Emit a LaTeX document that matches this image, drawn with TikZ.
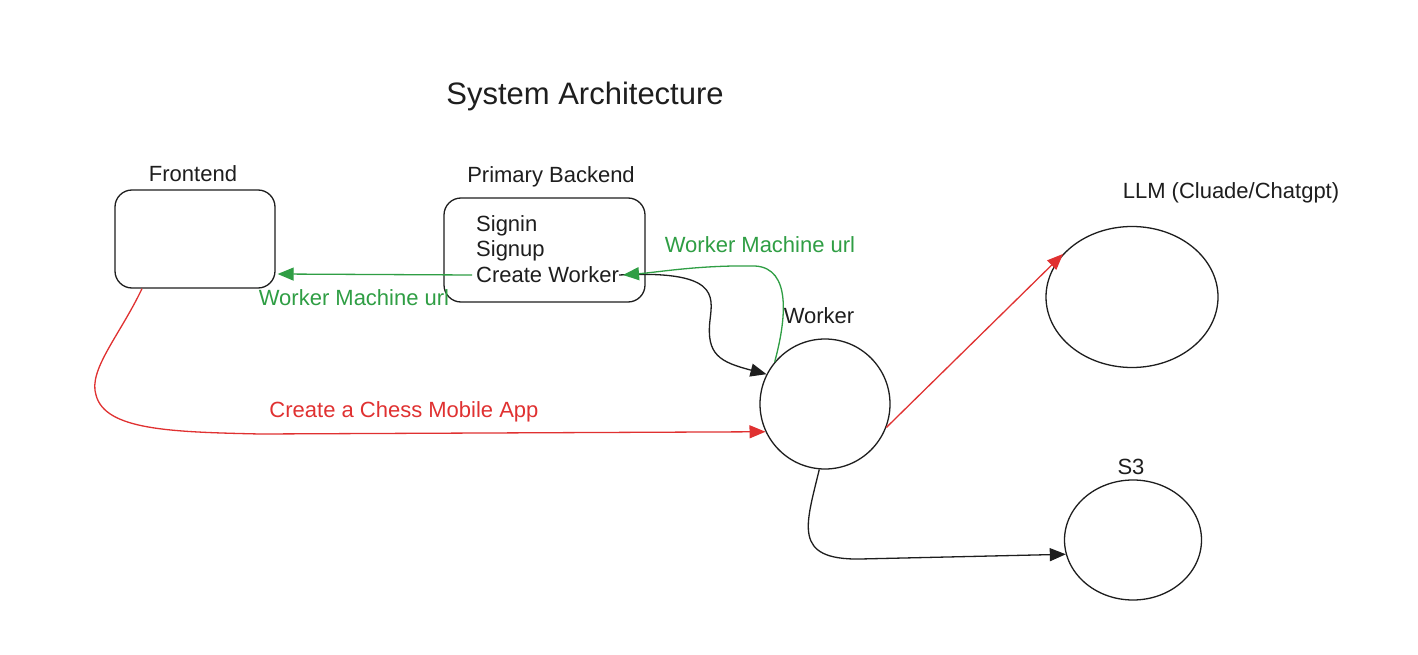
\documentclass[tikz,border=0pt]{standalone}
\usepackage{fontspec}
\setmainfont{Liberation Sans}
\usetikzlibrary{arrows.meta,shapes.geometric}
\definecolor{ink}{RGB}{30,30,30}
\definecolor{exred}{RGB}{224,49,49}
\definecolor{exgreen}{RGB}{47,158,68}
\tikzset{
  lbl/.style={inner sep=0pt, text=ink, font=\fontsize{22}{26}\selectfont},
  shapebox/.style={draw=ink, line width=1.3pt, fill=white},
  conn/.style={line width=1.3pt, -{Triangle[length=16pt,width=13pt]}},
}
\begin{document}
\begin{tikzpicture}[x=1pt,y=-1pt]
\useasboundingbox (0,0) rectangle (1418,655);
\fill[white] (0,0) rectangle (1418,655);

% title
\node[lbl, font=\fontsize{31}{36}\selectfont] (title) at (585,96) {System Architecture};

% frontend
\node[shapebox, rounded corners=17pt, minimum width=160pt, minimum height=98pt] (frontend) at (195,239) {};
\node[lbl] (felabel) at (193,174) {Frontend};

% primary backend
\node[shapebox, rounded corners=17pt, minimum width=201pt, minimum height=104pt] (backend) at (544.5,250) {};
\node[lbl] (belabel) at (551,177) {Primary Backend};
\node[lbl, anchor=west] (signin) at (476,226) {Signin};
\node[lbl, anchor=west] (signup) at (476,251) {Signup};
\node[lbl, anchor=west] (createw) at (476,275) {Create Worker};

% worker
\node[shapebox, circle, minimum size=130pt] (worker) at (825,404) {};
\node[lbl] (wlabel) at (819,316) {Worker};

% LLM
\node[shapebox, ellipse, minimum width=172pt, minimum height=141pt] (llm) at (1132,297) {};
\node[lbl] (llmlabel) at (1231,193) {LLM (Cluade/Chatgpt)};

% S3
\node[shapebox, ellipse, minimum width=137pt, minimum height=120pt] (s3) at (1133,540) {};
\node[lbl] (s3label) at (1131,467) {S3};

% connectors
\draw[conn, exgreen] ([xshift=-4pt]createw.west) -- ([yshift=-35pt,xshift=2pt]frontend.east);
\node[lbl, text=exgreen] (urlone) at (354,298) {Worker Machine url};

\draw[conn, ink] (createw.east) .. controls (718,270) and (713,295) .. (710,320)
   .. controls (706,355) and (720,362) .. (worker.153);

\draw[conn, exgreen] (worker.140) .. controls (786,320) and (792,268) .. (755,266)
   .. controls (700,265) and (660,272) .. ([xshift=4pt]createw.east);
\node[lbl, text=exgreen] (urltwo) at (760,245) {Worker Machine url};

\draw[conn, exred] ([xshift=-53pt]frontend.south) .. controls (120,335) and (88,370) .. (96,395)
   .. controls (105,430) and (170,432) .. (260,434) -- (worker.205);
\node[lbl, text=exred] (chess) at (404,412) {Create a Chess Mobile App};

\draw[conn, exred] (worker.-21) -- (llm.148);

\draw[conn, ink] (worker.-95) .. controls (806,525) and (792,560) .. (860,559) -- (s3.192);
\end{tikzpicture}
\end{document}
